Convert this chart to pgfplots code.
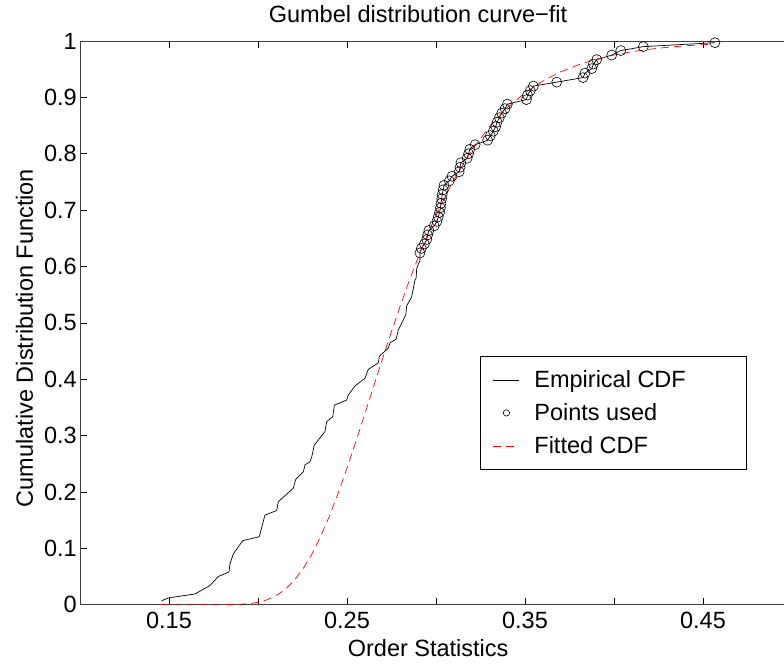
\documentclass[border=0pt]{standalone}
\usepackage{fontspec}
\setmainfont{Liberation Sans}
\usepackage{pgfplots}
\usepackage{pgfplotstable}
\pgfplotsset{compat=1.18}

% Empirical CDF: lower part of the sample (no markers)
\pgfplotstableread{
x y
0.1459 0.007
0.1496 0.012
0.1646 0.019
0.1730 0.034
0.1777 0.050
0.1837 0.058
0.1843 0.073
0.1861 0.090
0.1914 0.1135
0.2007 0.1206
0.2039 0.159
0.2105 0.167
0.2114 0.1827
0.2198 0.2065
0.2212 0.2224
0.2255 0.236
0.2264 0.248
0.2292 0.2536
0.2302 0.2625
0.2316 0.283
0.2376 0.307
0.2386 0.3246
0.2420 0.3335
0.2429 0.354
0.2498 0.363
0.2507 0.372
0.2545 0.388
0.2601 0.4016
0.2620 0.4175
0.2676 0.429
0.2682 0.441
0.2732 0.455
0.2742 0.4647
0.2775 0.4707
0.2788 0.487
0.2831 0.515
0.2835 0.530
0.2863 0.546
0.2882 0.576
0.2888 0.579
0.2892 0.597
0.2910 0.611
0.2910 0.624
}\lowertail

% Upper tail: the points used for the fit
\pgfplotstableread{
x y
0.2910 0.624
0.2918 0.632
0.2935 0.640
0.2948 0.648
0.2953 0.656
0.2960 0.664
0.2990 0.672
0.3005 0.680
0.3013 0.688
0.3020 0.696
0.3025 0.704
0.3028 0.712
0.3032 0.720
0.3035 0.728
0.3040 0.736
0.3045 0.744
0.3075 0.752
0.3090 0.760
0.3130 0.768
0.3135 0.776
0.3140 0.784
0.3175 0.792
0.3183 0.800
0.3190 0.808
0.3220 0.816
0.3290 0.824
0.3305 0.832
0.3322 0.840
0.3335 0.848
0.3343 0.856
0.3356 0.864
0.3369 0.872
0.3388 0.880
0.3401 0.888
0.3508 0.896
0.3514 0.904
0.3530 0.912
0.3547 0.920
0.3678 0.927
0.3826 0.935
0.3837 0.943
0.3875 0.951
0.3884 0.959
0.3903 0.967
0.3987 0.975
0.4038 0.983
0.4165 0.990
0.4567 0.997
}\uppertail

% Fitted Gumbel CDF
\pgfplotstableread{
x y
0.145 0.0000
0.160 0.0000
0.170 0.0000
0.180 0.0001
0.190 0.0008
0.195 0.0020
0.200 0.0043
0.205 0.0086
0.210 0.0157
0.215 0.0264
0.220 0.0417
0.225 0.0622
0.230 0.0882
0.235 0.1197
0.240 0.1563
0.245 0.1975
0.250 0.2422
0.255 0.2894
0.260 0.3382
0.265 0.3876
0.270 0.4367
0.275 0.4847
0.280 0.5309
0.285 0.5749
0.290 0.6164
0.295 0.6550
0.300 0.6908
0.310 0.7537
0.320 0.8057
0.330 0.8478
0.340 0.8814
0.350 0.9081
0.360 0.9290
0.370 0.9452
0.380 0.9578
0.390 0.9676
0.400 0.9752
0.410 0.9810
0.420 0.9854
0.430 0.9888
0.440 0.9915
0.455 0.9943
}\fitted

\begin{document}
\begin{tikzpicture}[font=\fontsize{23.5}{28}\selectfont]
\begin{axis}[
  at={(0,0)}, anchor=south west,
  scale only axis, width=712pt, height=563.7pt,
  xmin=0.1, xmax=0.5, ymin=0, ymax=1,
  xtick={0.15,0.25,0.35,0.45},
  xticklabels={0.15,0.25,0.35,0.45},
  minor xtick={0.2,0.3,0.4},
  ytick={0,0.1,0.2,0.3,0.4,0.5,0.6,0.7,0.8,0.9,1},
  yticklabels={0,0.1,0.2,0.3,0.4,0.5,0.6,0.7,0.8,0.9,\raisebox{-8pt}{1}},
  tick align=inside,
  major tick length=7pt, minor tick length=7pt,
  tick style={black, line width=0.6pt},
  axis line style={black!75, line width=0.9pt},
  /pgf/number format/assume math mode=true,
  xticklabel style={anchor=base, yshift=-23.6pt},
  yticklabel style={anchor=east, inner xsep=0pt, xshift=-3pt},
  title={Gumbel distribution curve−fit},
  title style={at={(axis description cs:0.4747,1)}, anchor=base, yshift=12.7pt},
  xlabel={Order Statistics},
  xlabel style={at={(axis description cs:0.489,0)}, anchor=base, yshift=-51.8pt},
  ylabel={Cumulative Distribution Function},
  ylabel style={at={([xshift=-47pt]axis description cs:0,0.473)}, anchor=base},
  legend style={at={(axis description cs:0.5618,0.4412)}, anchor=north west,
    draw=black, line width=0.8pt, fill=white, inner xsep=0pt, inner ysep=7pt,
    nodes={inner sep=0pt}, row sep=0pt, legend cell align=left},
  legend image code/.code={%
    \path[draw=none, fill=none] (0pt,-16.5pt) rectangle (54pt,16.5pt);
    \draw[#1] (13pt,0pt) -- (39pt,0pt);},
]
\addplot[black, line width=0.7pt] table {\lowertail};
\addlegendentry{\makebox[212pt][l]{Empirical CDF}}
\addplot[black, line width=0.7pt, mark=o, mark size=5pt,
  mark options={line width=0.6pt},
  legend image code/.code={%
    \path[draw=none, fill=none] (0pt,-16.5pt) rectangle (54pt,16.5pt);
    \draw[black, line width=0.6pt] (26pt,0pt) circle (3.2pt);}] table {\uppertail};
\addlegendentry{Points used}
\addplot[red, line width=0.7pt, dash pattern=on 8pt off 5pt] table {\fitted};
\addlegendentry{Fitted CDF}
\end{axis}
\pgfresetboundingbox
\path[use as bounding box] (-80pt,-59.3pt) rectangle (704pt,604.7pt);
\end{tikzpicture}
\end{document}
